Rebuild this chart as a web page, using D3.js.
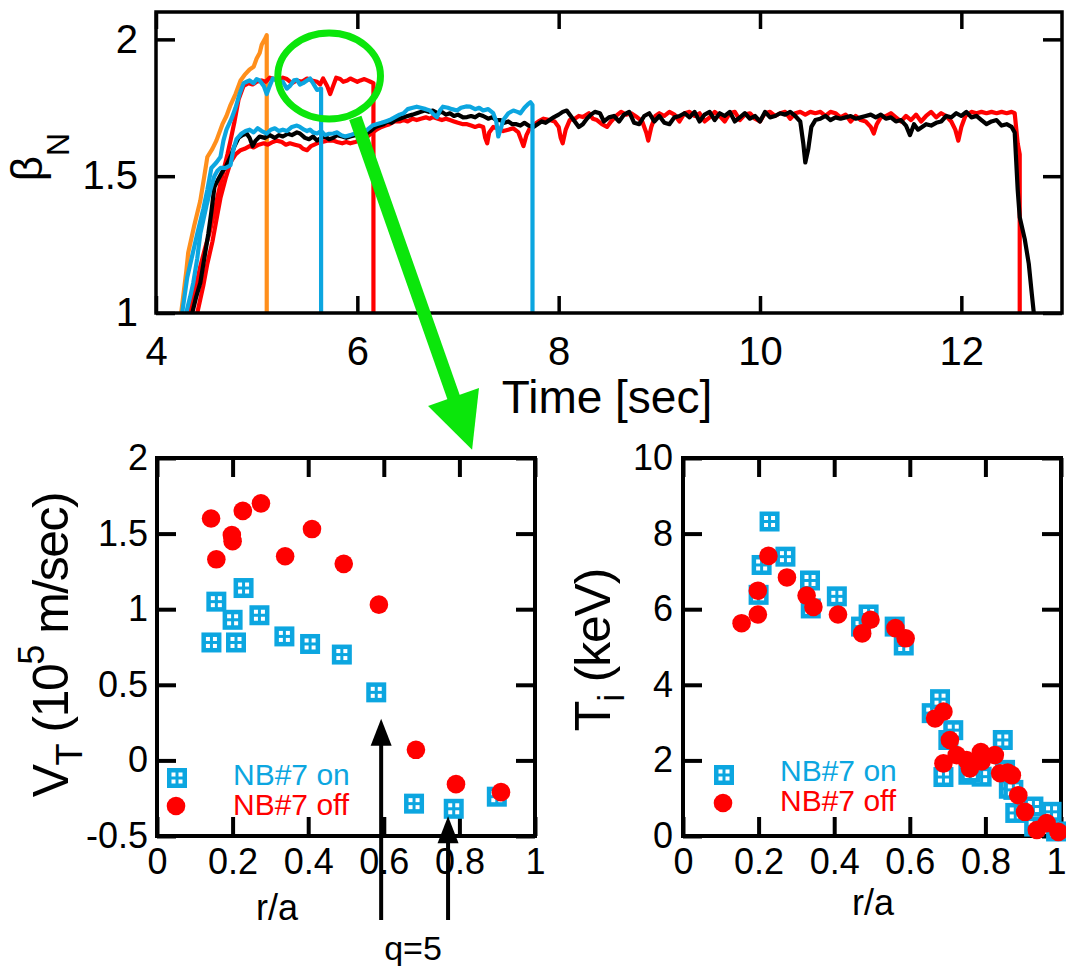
<!DOCTYPE html>
<html>
<head>
<meta charset="utf-8">
<script src="https://cdn.jsdelivr.net/npm/d3@7"></script>
<style>
  body { margin: 0; background: #fff; }
  text { font-family: "Liberation Sans", Arial, sans-serif; }
</style>
</head>
<body>
<script>
// ---- data ----
// beta_N time traces [time (s), beta_N]
const orangeTrace = [[4.25,1.0],[4.30,1.15],[4.32,1.22],[4.38,1.32],[4.44,1.41],[4.48,1.50],[4.51,1.57],[4.56,1.60],[4.60,1.63],[4.66,1.69],[4.70,1.72],[4.74,1.76],[4.79,1.80],[4.84,1.85],[4.88,1.87],[4.93,1.89],[4.97,1.90],[5.00,1.93],[5.03,1.95],[5.05,1.98],[5.08,2.00],[5.10,2.015],[5.10,1.0]];

const blueHigh = [[4.26,1.0],[4.31,1.13],[4.36,1.21],[4.41,1.29],[4.47,1.38],[4.51,1.45],[4.55,1.53],[4.60,1.55],[4.64,1.57],[4.67,1.63],[4.70,1.67],[4.75,1.71],[4.79,1.75],[4.83,1.80],[4.87,1.84],[4.90,1.845],[4.93,1.85],[4.97,1.84],[5.00,1.855],[5.03,1.85],[5.07,1.83],[5.10,1.80],[5.13,1.83],[5.16,1.857],[5.20,1.85],[5.23,1.84],[5.26,1.845],[5.30,1.82],[5.33,1.83],[5.37,1.85],[5.40,1.852],[5.43,1.835],[5.46,1.84],[5.50,1.85],[5.53,1.857],[5.56,1.84],[5.60,1.815],[5.64,1.82],[5.64,1.0]];

const redHigh = [[4.33,1.0],[4.37,1.05],[4.41,1.12],[4.44,1.17],[4.49,1.24],[4.53,1.29],[4.58,1.37],[4.62,1.44],[4.67,1.52],[4.71,1.58],[4.74,1.63],[4.78,1.70],[4.82,1.78],[4.87,1.83],[4.92,1.84],[4.96,1.835],[5.00,1.845],[5.05,1.85],[5.09,1.845],[5.13,1.86],[5.18,1.855],[5.22,1.845],[5.26,1.86],[5.30,1.855],[5.35,1.84],[5.40,1.85],[5.45,1.845],[5.50,1.857],[5.55,1.85],[5.60,1.845],[5.63,1.835],[5.66,1.857],[5.70,1.83],[5.73,1.80],[5.76,1.83],[5.79,1.86],[5.83,1.855],[5.86,1.845],[5.90,1.85],[5.93,1.857],[5.97,1.85],[6.00,1.845],[6.03,1.85],[6.07,1.855],[6.10,1.85],[6.13,1.845],[6.16,1.84],[6.16,1.0]];

const blueLow = [[4.30,1.0],[4.34,1.06],[4.37,1.11],[4.41,1.20],[4.44,1.29],[4.47,1.34],[4.50,1.39],[4.54,1.45],[4.58,1.50],[4.61,1.52],[4.64,1.53],[4.69,1.53],[4.74,1.54],[4.77,1.60],[4.80,1.635],[4.85,1.656],[4.89,1.665],[4.93,1.67],[4.97,1.66],[5.01,1.675],[5.05,1.665],[5.10,1.656],[5.14,1.67],[5.18,1.675],[5.22,1.665],[5.26,1.67],[5.30,1.665],[5.35,1.68],[5.40,1.685],[5.43,1.68],[5.47,1.67],[5.50,1.665],[5.53,1.67],[5.56,1.66],[5.60,1.656],[5.64,1.665],[5.68,1.65],[5.72,1.655],[5.76,1.656],[5.80,1.66],[5.84,1.65],[5.88,1.645],[5.93,1.65],[5.97,1.655],[6.01,1.66],[6.06,1.66],[6.10,1.67],[6.15,1.685],[6.19,1.69],[6.24,1.695],[6.28,1.70],[6.32,1.705],[6.37,1.715],[6.42,1.725],[6.46,1.73],[6.50,1.745],[6.55,1.75],[6.59,1.754],[6.63,1.75],[6.68,1.745],[6.72,1.74],[6.76,1.725],[6.79,1.716],[6.82,1.74],[6.85,1.754],[6.90,1.75],[6.94,1.745],[6.99,1.74],[7.03,1.75],[7.08,1.755],[7.12,1.754],[7.17,1.745],[7.21,1.75],[7.25,1.74],[7.30,1.745],[7.35,1.73],[7.38,1.70],[7.40,1.645],[7.43,1.68],[7.45,1.705],[7.50,1.73],[7.55,1.74],[7.59,1.735],[7.62,1.73],[7.66,1.75],[7.70,1.765],[7.72,1.77],[7.74,1.76],[7.74,1.0]];

const blackTrace = [[4.36,1.0],[4.40,1.06],[4.44,1.11],[4.48,1.20],[4.52,1.29],[4.55,1.37],[4.58,1.46],[4.62,1.49],[4.65,1.51],[4.70,1.54],[4.74,1.57],[4.78,1.61],[4.82,1.64],[4.86,1.65],[4.90,1.656],[4.93,1.64],[4.96,1.61],[4.99,1.63],[5.03,1.645],[5.08,1.64],[5.13,1.65],[5.18,1.64],[5.22,1.65],[5.26,1.645],[5.31,1.655],[5.35,1.65],[5.40,1.66],[5.43,1.656],[5.48,1.64],[5.52,1.635],[5.56,1.645],[5.60,1.63],[5.64,1.64],[5.68,1.645],[5.72,1.635],[5.76,1.64],[5.80,1.65],[5.85,1.645],[5.89,1.64],[5.93,1.645],[5.98,1.65],[6.02,1.655],[6.06,1.66],[6.09,1.656],[6.13,1.665],[6.18,1.68],[6.22,1.685],[6.26,1.69],[6.30,1.70],[6.34,1.695],[6.38,1.705],[6.42,1.71],[6.46,1.715],[6.50,1.72],[6.55,1.725],[6.59,1.73],[6.63,1.735],[6.67,1.74],[6.71,1.735],[6.75,1.74],[6.80,1.73],[6.84,1.735],[6.88,1.725],[6.92,1.73],[6.96,1.72],[7.00,1.725],[7.05,1.715],[7.09,1.716],[7.13,1.72],[7.17,1.715],[7.21,1.725],[7.25,1.72],[7.30,1.71],[7.34,1.715],[7.38,1.705],[7.42,1.705],[7.46,1.695],[7.50,1.70],[7.54,1.69],[7.58,1.69],[7.62,1.685],[7.66,1.695],[7.70,1.685],[7.75,1.68],[7.79,1.69],[7.83,1.70],[7.87,1.695],[7.91,1.705],[7.95,1.715],[8.00,1.725],[8.04,1.735],[8.08,1.74],[8.12,1.72],[8.16,1.70],[8.20,1.68],[8.24,1.69],[8.28,1.71],[8.32,1.725],[8.36,1.735],[8.41,1.73],[8.45,1.70],[8.50,1.715],[8.55,1.72],[8.60,1.70],[8.65,1.725],[8.70,1.735],[8.75,1.695],[8.80,1.69],[8.85,1.72],[8.90,1.73],[8.95,1.70],[9.00,1.72],[9.05,1.695],[9.10,1.69],[9.15,1.715],[9.20,1.72],[9.25,1.73],[9.30,1.715],[9.35,1.735],[9.40,1.70],[9.45,1.725],[9.50,1.735],[9.55,1.705],[9.60,1.73],[9.65,1.72],[9.70,1.735],[9.75,1.70],[9.80,1.715],[9.85,1.73],[9.90,1.71],[9.95,1.72],[10.00,1.70],[10.05,1.735],[10.10,1.715],[10.15,1.72],[10.20,1.73],[10.25,1.725],[10.30,1.735],[10.35,1.72],[10.40,1.70],[10.43,1.62],[10.45,1.55],[10.48,1.60],[10.51,1.68],[10.55,1.705],[10.60,1.71],[10.65,1.72],[10.70,1.705],[10.75,1.715],[10.80,1.71],[10.85,1.715],[10.90,1.72],[10.95,1.71],[11.00,1.715],[11.05,1.72],[11.10,1.725],[11.15,1.715],[11.20,1.725],[11.25,1.71],[11.30,1.715],[11.35,1.70],[11.40,1.705],[11.45,1.685],[11.49,1.65],[11.53,1.69],[11.57,1.67],[11.61,1.68],[11.65,1.69],[11.70,1.685],[11.75,1.695],[11.80,1.70],[11.85,1.72],[11.90,1.715],[11.95,1.73],[12.00,1.72],[12.05,1.735],[12.10,1.715],[12.15,1.72],[12.20,1.705],[12.25,1.69],[12.30,1.70],[12.35,1.705],[12.40,1.685],[12.45,1.69],[12.50,1.68],[12.53,1.66],[12.56,1.45],[12.58,1.35],[12.63,1.27],[12.67,1.18],[12.70,1.07],[12.72,1.0]];

const redLow = [[4.41,1.0],[4.44,1.05],[4.47,1.10],[4.51,1.18],[4.56,1.26],[4.60,1.34],[4.64,1.42],[4.69,1.49],[4.74,1.55],[4.79,1.58],[4.84,1.595],[4.88,1.60],[4.93,1.61],[4.97,1.605],[5.02,1.615],[5.07,1.62],[5.11,1.615],[5.16,1.625],[5.20,1.63],[5.25,1.625],[5.29,1.615],[5.33,1.62],[5.38,1.615],[5.43,1.61],[5.46,1.60],[5.50,1.595],[5.54,1.61],[5.60,1.62],[5.65,1.625],[5.70,1.63],[5.76,1.63],[5.80,1.625],[5.85,1.62],[5.89,1.625],[5.93,1.62],[5.98,1.625],[6.02,1.63],[6.06,1.63],[6.10,1.645],[6.15,1.66],[6.19,1.67],[6.24,1.68],[6.28,1.685],[6.32,1.69],[6.37,1.70],[6.42,1.70],[6.46,1.705],[6.50,1.70],[6.55,1.71],[6.59,1.705],[6.63,1.71],[6.68,1.715],[6.72,1.71],[6.75,1.716],[6.80,1.71],[6.84,1.705],[6.88,1.71],[6.92,1.705],[6.96,1.70],[7.00,1.695],[7.05,1.69],[7.09,1.69],[7.13,1.685],[7.17,1.68],[7.21,1.685],[7.25,1.68],[7.27,1.64],[7.29,1.62],[7.31,1.66],[7.35,1.68],[7.40,1.675],[7.45,1.665],[7.50,1.67],[7.55,1.675],[7.60,1.66],[7.63,1.63],[7.65,1.61],[7.68,1.65],[7.72,1.68],[7.76,1.69],[7.80,1.70],[7.85,1.71],[7.91,1.705],[7.96,1.70],[8.00,1.68],[8.02,1.64],[8.04,1.62],[8.07,1.67],[8.11,1.705],[8.16,1.71],[8.20,1.72],[8.24,1.716],[8.30,1.73],[8.34,1.71],[8.38,1.705],[8.43,1.69],[8.48,1.68],[8.52,1.70],[8.57,1.72],[8.62,1.735],[8.67,1.725],[8.72,1.73],[8.78,1.715],[8.83,1.70],[8.87,1.66],[8.89,1.63],[8.92,1.68],[8.96,1.72],[9.00,1.73],[9.05,1.72],[9.10,1.735],[9.15,1.725],[9.20,1.70],[9.25,1.73],[9.30,1.735],[9.35,1.72],[9.40,1.73],[9.45,1.70],[9.50,1.715],[9.55,1.735],[9.60,1.72],[9.65,1.70],[9.70,1.73],[9.75,1.735],[9.80,1.705],[9.85,1.725],[9.90,1.73],[9.95,1.71],[10.00,1.70],[10.05,1.73],[10.10,1.735],[10.15,1.72],[10.20,1.73],[10.25,1.735],[10.30,1.71],[10.35,1.73],[10.40,1.735],[10.45,1.725],[10.50,1.735],[10.55,1.73],[10.60,1.735],[10.65,1.72],[10.70,1.735],[10.75,1.73],[10.80,1.715],[10.85,1.725],[10.90,1.70],[10.95,1.72],[11.00,1.705],[11.05,1.70],[11.10,1.68],[11.13,1.656],[11.16,1.69],[11.20,1.715],[11.25,1.72],[11.30,1.73],[11.35,1.715],[11.40,1.70],[11.45,1.72],[11.50,1.705],[11.55,1.725],[11.60,1.70],[11.65,1.72],[11.70,1.735],[11.75,1.715],[11.80,1.73],[11.85,1.72],[11.90,1.70],[11.94,1.67],[11.97,1.63],[12.00,1.68],[12.04,1.72],[12.10,1.735],[12.15,1.73],[12.20,1.735],[12.25,1.73],[12.30,1.735],[12.35,1.73],[12.40,1.735],[12.45,1.73],[12.50,1.735],[12.53,1.73],[12.56,1.62],[12.58,1.58],[12.58,1.0]];

// toroidal rotation V_T [r/a, 1e5 m/s]
const vtOn  = [[0.144,0.78],[0.157,1.05],[0.209,0.78],[0.200,0.93],[0.229,1.14],[0.271,0.96],[0.337,0.82],[0.405,0.77],[0.489,0.70],[0.580,0.45],[0.680,-0.286],[0.785,-0.32],[0.899,-0.24]];
const vtOff = [[0.143,1.60],[0.157,1.33],[0.198,1.49],[0.200,1.45],[0.227,1.65],[0.275,1.70],[0.339,1.35],[0.410,1.53],[0.494,1.30],[0.587,1.03],[0.685,0.07],[0.791,-0.157],[0.910,-0.21]];

// ion temperature T_i [r/a, keV]
const tiOn  = [[0.229,8.32],[0.208,7.17],[0.200,6.38],[0.271,7.39],[0.336,6.76],[0.338,6.02],[0.407,6.34],[0.471,5.54],[0.491,5.86],[0.560,5.54],[0.584,5.04],
               [0.658,3.25],[0.680,3.62],[0.702,2.54],[0.715,2.80],[0.689,1.56],[0.755,1.62],[0.790,1.57],[0.760,1.68],[0.846,2.54],[0.852,1.75],[0.862,1.25],[0.874,1.22],
               [0.879,0.61],[0.927,0.78],[0.975,0.64],[0.929,0.25],[0.987,0.12]];
const tiOff = [[0.155,5.63],[0.198,5.86],[0.198,6.49],[0.226,7.41],[0.275,6.84],[0.327,6.36],[0.345,6.06],[0.410,5.86],[0.474,5.36],[0.496,5.72],[0.562,5.50],[0.589,5.23],
               [0.667,3.11],[0.689,3.29],[0.706,2.54],[0.689,1.92],[0.724,2.14],[0.750,2.01],[0.759,1.79],[0.790,1.97],[0.788,2.22],[0.825,2.14],[0.839,1.66],[0.859,1.68],
               [0.870,1.61],[0.887,1.08],[0.905,0.64],[0.936,0.16],[0.962,0.34],[0.993,0.11]];

// tick values
const timeTicks = [4, 6, 8, 10, 12];
const betaTicks = [1, 1.5, 2];
const raTicks = [0, 0.2, 0.4, 0.6, 0.8, 1];
const vtTicks = [-0.5, 0, 0.5, 1, 1.5, 2];
const tiTicks = [0, 2, 4, 6, 8, 10];

// annotation positions (data units)
const qArrows = [[0.593, 0.275], [0.770, -0.369]];   // r/a, tip value
const zoomMark = {t: 5.72, b: 1.866, rt: 0.51, rb: 0.157};
const zoomArrow = [[5.98, 1.713], [7.14, 0.50]];

const BLUE = "#0ca6e0", RED = "#ff0000", ORANGE = "#ff8f1c", GREEN = "#0be60b";

const svg = d3.select("body").append("svg")
    .attr("width", 1066)
    .attr("height", 966);

// ---- scales ----
const xT = d3.scaleLinear().domain([4, 13]).range([156, 1062]);
const yT = d3.scaleLinear().domain([1, 2.1]).range([313, 12]);
const xL = d3.scaleLinear().domain([0, 1]).range([157, 535]);
const yL = d3.scaleLinear().domain([-0.5, 2]).range([836, 458]);
const xR = d3.scaleLinear().domain([0, 1]).range([683, 1061]);
const yR = d3.scaleLinear().domain([0, 10]).range([836, 458]);

const fmt = d => String(d);

// draws the box, inward ticks on all four sides and labels on bottom/left
function drawFrame(x, y, xt, yt, o) {
  const g = svg.append("g");
  const [x0, x1] = x.range(), [y0, y1] = y.range();

  const axes = [
    g.append("g").attr("class", "xb").attr("transform", `translate(0,${y0})`)
      .call(d3.axisBottom(x).tickValues(xt).tickSize(-o.tx).tickPadding(o.xpad).tickFormat(fmt)),
    g.append("g").attr("transform", `translate(0,${y1})`)
      .call(d3.axisTop(x).tickValues(xt).tickSize(-o.tx).tickFormat("")),
    g.append("g").attr("transform", `translate(${x0},0)`)
      .call(d3.axisLeft(y).tickValues(yt).tickSize(-o.ty).tickPadding(o.ypad).tickFormat(fmt)),
    g.append("g").attr("transform", `translate(${x1},0)`)
      .call(d3.axisRight(y).tickValues(yt).tickSize(-o.ty).tickFormat(""))
  ];
  axes.forEach(a => {
    a.attr("font-size", o.fs).attr("font-family", "Liberation Sans, Arial, sans-serif");
    a.select(".domain").remove();
    a.selectAll("line").attr("stroke", "#000").attr("stroke-width", o.sw);
    a.selectAll("text").attr("fill", "#000");
  });

  g.append("rect")
    .attr("x", x0).attr("y", y1)
    .attr("width", x1 - x0).attr("height", y0 - y1)
    .attr("fill", "none").attr("stroke", "#000").attr("stroke-width", o.sw);
  return g;
}

// ---- top panel: beta_N vs time ----
const traces = [
  {d: orangeTrace, c: ORANGE},
  {d: redHigh, c: RED},
  {d: redLow, c: RED},
  {d: blackTrace, c: "#000"},
  {d: blueLow, c: BLUE},
  {d: blueHigh, c: BLUE}
];
const line = d3.line().x(d => xT(d[0])).y(d => yT(d[1]));

svg.append("g").selectAll("path")
  .data(traces)
  .join("path")
    .attr("d", d => line(d.d))
    .attr("fill", "none")
    .attr("stroke", d => d.c)
    .attr("stroke-width", 4.2)
    .attr("stroke-linejoin", "round");

drawFrame(xT, yT, timeTicks, betaTicks, {tx: 17, ty: 19, xpad: 24, ypad: 18, fs: 40, sw: 3.5});

svg.append("text")
  .attr("x", 607).attr("y", 413)
  .attr("text-anchor", "middle")
  .attr("font-size", 46)
  .text("Time [sec]");

const betaLabel = svg.append("text")
  .attr("transform", "translate(42,157) rotate(-90)")
  .attr("text-anchor", "middle")
  .attr("font-size", 44);
betaLabel.append("tspan").text("β");
betaLabel.append("tspan").attr("dy", 27).attr("font-size", 32).text("N");

// ---- bottom left: V_T ----
drawFrame(xL, yL, raTicks, vtTicks, {tx: 19, ty: 19, xpad: 12, ypad: 9, fs: 36, sw: 4});

// ---- bottom right: T_i ----
const frameR = drawFrame(xR, yR, raTicks, tiTicks, {tx: 19, ty: 19, xpad: 12, ypad: 10, fs: 36, sw: 4});
// the last "1" sits at the page edge: keep it inside
frameR.select(".xb").selectAll(".tick text")
  .filter(d => d === 1)
  .attr("text-anchor", "end")
  .attr("x", 5);

// window-like square marker
function squares(g, data, x, y) {
  const m = g.append("g").selectAll("g")
    .data(data)
    .join("g")
      .attr("transform", d => `translate(${x(d[0])},${y(d[1])})`);
  m.append("rect").attr("x", -10).attr("y", -10).attr("width", 20).attr("height", 20).attr("fill", BLUE);
  [[-5.5, -5.5], [1.5, -5.5], [-5.5, 1.5], [1.5, 1.5]].forEach(p => {
    m.append("rect").attr("x", p[0]).attr("y", p[1]).attr("width", 4).attr("height", 4).attr("fill", "#fff");
  });
}
function circles(g, data, x, y) {
  g.append("g").selectAll("circle")
    .data(data)
    .join("circle")
      .attr("cx", d => x(d[0]))
      .attr("cy", d => y(d[1]))
      .attr("r", 9.3)
      .attr("fill", RED);
}

const pl = svg.append("g");
squares(pl, vtOn, xL, yL);
circles(pl, vtOff, xL, yL);

const pr = svg.append("g");
squares(pr, tiOn, xR, yR);
circles(pr, tiOff, xR, yR);

// legends
function legend(x, y, dx, sqY, cY, tx, t1, t2) {
  const [x0] = x.range(), [, y1] = y.range();
  const lg = svg.append("g").attr("transform", `translate(${x0},${y1})`);
  squares(lg, [[dx, sqY]], v => v, v => v);
  circles(lg, [[dx - 1, cY]], v => v, v => v);
  lg.append("text").attr("x", tx).attr("y", t1).attr("font-size", 30).attr("fill", BLUE).text("NB#7 on");
  lg.append("text").attr("x", tx).attr("y", t2).attr("font-size", 30).attr("fill", RED).text("NB#7 off");
}
legend(xL, yL, 20, 320, 348, 76, 327, 357);
legend(xR, yR, 41, 317, 345, 97, 323, 353);

// axis titles
svg.append("text")
  .attr("x", 277).attr("y", 920)
  .attr("text-anchor", "middle").attr("font-size", 36)
  .text("r/a");
svg.append("text")
  .attr("x", 873).attr("y", 915)
  .attr("text-anchor", "middle").attr("font-size", 36)
  .text("r/a");

const vtLabel = svg.append("text")
  .attr("transform", "translate(68,645) rotate(-90)")
  .attr("text-anchor", "middle")
  .attr("font-size", 50)
  .attr("letter-spacing", -1.5);
vtLabel.append("tspan").text("V");
vtLabel.append("tspan").attr("dy", 14).attr("font-size", 36).text("T");
vtLabel.append("tspan").attr("dy", -14).text(" (10");
vtLabel.append("tspan").attr("dy", -24).attr("font-size", 36).text("5");
vtLabel.append("tspan").attr("dy", 24).text(" m/sec)");

const tiLabel = svg.append("text")
  .attr("transform", "translate(610,650) rotate(-90)")
  .attr("text-anchor", "middle")
  .attr("font-size", 50)
  .attr("letter-spacing", -1.2);
tiLabel.append("tspan").text("T");
tiLabel.append("tspan").attr("dy", 14).attr("font-size", 36).text("i");
tiLabel.append("tspan").attr("dy", -14).text(" (keV)");

// q=5 arrows
const arrowsG = svg.append("g");
qArrows.forEach(a => {
  const px = xL(a[0]), tip = yL(a[1]);
  arrowsG.append("line")
    .attr("x1", px).attr("x2", px)
    .attr("y1", 920).attr("y2", tip + 20)
    .attr("stroke", "#000").attr("stroke-width", 4);
  arrowsG.append("path")
    .attr("d", `M${px},${tip} L${px - 10.5},${tip + 27} L${px + 10.5},${tip + 27} Z`)
    .attr("fill", "#000");
});
svg.append("text")
  .attr("x", 413).attr("y", 960)
  .attr("text-anchor", "middle").attr("font-size", 34)
  .text("q=5");

// green zoom marker + arrow
svg.append("ellipse")
  .attr("cx", xT(zoomMark.t)).attr("cy", yT(zoomMark.b))
  .attr("rx", xT(zoomMark.t + zoomMark.rt) - xT(zoomMark.t))
  .attr("ry", yT(zoomMark.b - zoomMark.rb) - yT(zoomMark.b))
  .attr("fill", "none").attr("stroke", GREEN).attr("stroke-width", 7);

const [ax0, ay0] = [xT(zoomArrow[0][0]), yT(zoomArrow[0][1])];
const [ax1, ay1] = [xT(zoomArrow[1][0]), yT(zoomArrow[1][1])];
const len = Math.hypot(ax1 - ax0, ay1 - ay0);
const ux = (ax1 - ax0) / len, uy = (ay1 - ay0) / len;
const headL = 56, headW = 27;
const bx = ax1 - ux * headL, by = ay1 - uy * headL;
svg.append("line")
  .attr("x1", ax0).attr("y1", ay0)
  .attr("x2", bx + ux * 4).attr("y2", by + uy * 4)
  .attr("stroke", GREEN).attr("stroke-width", 13);
svg.append("path")
  .attr("d", `M${ax1},${ay1} L${bx - uy * headW},${by + ux * headW} L${bx + uy * headW},${by - ux * headW} Z`)
  .attr("fill", GREEN);
</script>
</body>
</html>
